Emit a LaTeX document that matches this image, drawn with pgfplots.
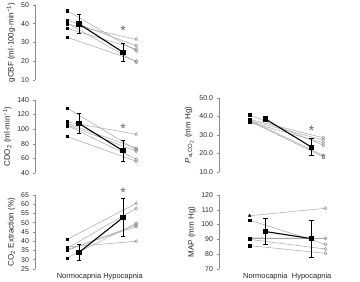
\documentclass[border=0pt]{standalone}
\usepackage{fontspec}
\setmainfont{Liberation Sans}
\usepackage{pgfplots}
\pgfplotsset{compat=1.18}
\pgfplotsset{
  panel/.style={
    scale only axis,
    xmin=0, xmax=3,
    axis y line*=left, axis x line*=bottom,
    x axis line style={draw=none},
    y axis line style={-, black!45, line width=0.5bp},
    major x tick style={draw=none},
    major y tick style={black!45, line width=0.5bp},
    ytick align=outside, major tick length=2bp,
    tick label style={font=\fontsize{7}{8}\selectfont, text=black!85},
    yticklabel style={xshift=-0.5bp},
    label style={font=\fontsize{8}{9}\selectfont, text=black!85},
    ylabel style={yshift=-1bp},
    /pgf/number format/assume math mode=true,
    clip=false,
    xtick={1,2}, xticklabels={},
  },
  indiv/.style={color=black!35, line width=0.5bp, no marks},
  lmark/.style={only marks, mark=square*, mark size=1.2bp, black},
  rmark/.style={only marks, mark=o, mark size=1.6bp, black!45, mark options={line width=0.45bp}},
  rtri/.style={only marks, mark=triangle, mark size=1.7bp, black!45, mark options={line width=0.45bp}},
  meanp/.style={black, line width=1.1bp, mark=square*, mark size=2.1bp,
    error bars/.cd, y dir=both, y explicit,
    error bar style={black, line width=0.6bp},
    error mark options={rotate=90, mark size=2.2bp, black, line width=0.6bp}},
}
\newcommand{\sigstar}[1]{\node[font=\fontsize{14}{14}\selectfont, text=black!60, inner sep=0pt] at (#1) {*};}
\begin{document}
\begin{tikzpicture}
\useasboundingbox (0,0) rectangle (360bp,282bp);
% ---------- gCBF ----------
\begin{axis}[panel, at={(35bp,202bp)}, anchor=south west, width=132bp, height=75bp,
  ymin=10, ymax=50, ytick={10,20,30,40,50},
  ylabel={gCBF (ml·100g·min\textsuperscript{−1})}]
\addplot[indiv] coordinates {(0.73,47.0) (2.3,25.5)};
\addplot[indiv] coordinates {(0.73,42.0) (2.3,28.3)};
\addplot[indiv] coordinates {(0.73,39.9) (2.3,31.7)};
\addplot[indiv] coordinates {(0.73,37.6) (2.3,26.5)};
\addplot[indiv] coordinates {(0.73,32.8) (2.3,20.1)};
\addplot[indiv] coordinates {(0.73,40.5) (2.3,19.5)};
\addplot[lmark] coordinates {(0.73,47.0) (0.73,42.0) (0.73,39.9) (0.73,37.6) (0.73,32.8) (0.73,40.5)};
\addplot[rmark] coordinates {(2.3,25.5) (2.3,28.3) (2.3,26.5) (2.3,20.1) (2.3,19.5)};
\addplot[rtri] coordinates {(2.3,31.7)};
\addplot[meanp] coordinates {(1,39.9) +- (0,5.2) (2,24.8) +- (0,5.0)};
\sigstar{axis cs:2,36.5}
\end{axis}
% ---------- CDO2 ----------
\begin{axis}[panel, at={(35bp,109bp)}, anchor=south west, width=132bp, height=73bp,
  ymin=40, ymax=140, ytick={40,60,80,100,120,140},
  ylabel={CDO\textsubscript{2} (ml·min\textsuperscript{−1})}]
\addplot[indiv] coordinates {(0.73,129) (2.3,72)};
\addplot[indiv] coordinates {(0.73,110) (2.3,93)};
\addplot[indiv] coordinates {(0.73,108) (2.3,74)};
\addplot[indiv] coordinates {(0.73,106) (2.3,70)};
\addplot[indiv] coordinates {(0.73,105) (2.3,59)};
\addplot[indiv] coordinates {(0.73,90) (2.3,56)};
\addplot[lmark] coordinates {(0.73,129) (0.73,110) (0.73,108) (0.73,106) (0.73,105) (0.73,90)};
\addplot[rmark] coordinates {(2.3,72) (2.3,74) (2.3,70) (2.3,59) (2.3,56)};
\addplot[rtri] coordinates {(2.3,93)};
\addplot[meanp] coordinates {(1,107.8) +- (0,14) (2,70.5) +- (0,14.5)};
\sigstar{axis cs:2,101}
\end{axis}
% ---------- CO2 extraction ----------
\begin{axis}[panel, at={(35bp,13bp)}, anchor=south west, width=132bp, height=74bp,
  ymin=25, ymax=65, ytick={25,30,35,40,45,50,55,60,65},
  xticklabels={Normocapnia,Hypocapnia},
  xticklabel style={font=\fontsize{7.5}{8}\selectfont, text=black!85, yshift=-1bp},
  ylabel={CO\textsubscript{2} Extraction (\%)}]
\addplot[indiv] coordinates {(0.73,41.0) (2.3,60.5)};
\addplot[indiv] coordinates {(0.73,36.2) (2.3,57.8)};
\addplot[indiv] coordinates {(0.73,31.0) (2.3,49.7)};
\addplot[indiv] coordinates {(0.73,35.0) (2.3,48.8)};
\addplot[indiv] coordinates {(0.73,35.5) (2.3,47.9)};
\addplot[indiv] coordinates {(0.73,36.8) (2.3,40.0)};
\addplot[lmark] coordinates {(0.73,41.0) (0.73,36.2) (0.73,31.0) (0.73,35.0) (0.73,35.5) (0.73,36.8)};
\addplot[rmark] coordinates {(2.3,57.8) (2.3,49.7) (2.3,48.8) (2.3,47.9)};
\addplot[rtri] coordinates {(2.3,60.5) (2.3,40.0)};
\addplot[meanp] coordinates {(1,34.0) +- (0,4.5) (2,52.8) +- (0,10.3)};
\sigstar{axis cs:2,66}
\end{axis}
% ---------- PaCO2 ----------
\begin{axis}[panel, at={(219bp,110bp)}, anchor=south west, width=139bp, height=74bp,
  ymin=10, ymax=50, ytick={10,20,30,40,50},
  yticklabel style={/pgf/number format/fixed, /pgf/number format/fixed zerofill, /pgf/number format/precision=1},
  ylabel={\textit{P}\textsubscript{a,CO\textsubscript{2}} (mm Hg)}]
\addplot[indiv] coordinates {(0.66,40.9) (2.25,24.5)};
\addplot[indiv] coordinates {(0.66,38.5) (2.25,28.5)};
\addplot[indiv] coordinates {(0.66,37.8) (2.25,27.3)};
\addplot[indiv] coordinates {(0.66,36.9) (2.25,25.8)};
\addplot[indiv] coordinates {(0.66,38.0) (2.25,19.0)};
\addplot[indiv] coordinates {(0.66,37.5) (2.25,18.2)};
\addplot[lmark] coordinates {(0.66,40.9) (0.66,38.5) (0.66,37.8) (0.66,36.9) (0.66,38.0) (0.66,37.5)};
\addplot[rmark] coordinates {(2.25,24.5) (2.25,28.5) (2.25,27.3) (2.25,25.8) (2.25,19.0)};
\addplot[only marks, mark=square, mark size=1.4bp, black!45, mark options={line width=0.45bp}] coordinates {(2.25,18.2)};
\addplot[meanp] coordinates {(1,38.7) +- (0,1.3) (2,23.4) +- (0,4.6)};
\sigstar{axis cs:2,32.5}
\end{axis}
% ---------- MAP ----------
\begin{axis}[panel, at={(219bp,13bp)}, anchor=south west, width=139bp, height=74bp,
  ymin=70, ymax=120, ytick={70,80,90,100,110,120},
  xticklabels={Normocapnia,Hypocapnia},
  xticklabel style={font=\fontsize{7.5}{8}\selectfont, text=black!85, yshift=-1bp},
  ylabel={MAP (mm Hg)}]
\addplot[indiv] coordinates {(0.66,106.0) (2.3,111.0)};
\addplot[indiv] coordinates {(0.66,103.0) (2.3,86.7)};
\addplot[indiv] coordinates {(0.66,91.0) (2.3,90.7)};
\addplot[indiv] coordinates {(0.66,90.0) (2.3,83.5)};
\addplot[indiv] coordinates {(0.66,85.8) (2.3,80.6)};
\addplot[indiv] coordinates {(0.66,90.5) (2.3,90.5)};
\addplot[lmark] coordinates {(0.66,103.0) (0.66,91.0) (0.66,90.0) (0.66,85.8) (0.66,90.5)};
\addplot[only marks, mark=triangle*, mark size=1.6bp, black] coordinates {(0.66,106.0)};
\addplot[rmark] coordinates {(2.3,111.0) (2.3,86.7) (2.3,90.7) (2.3,83.5) (2.3,80.6)};
\addplot[meanp] coordinates {(1,95.3) +- (0,8.8) (2,90.5) +- (0,12.3)};
\end{axis}
\end{tikzpicture}
\end{document}
